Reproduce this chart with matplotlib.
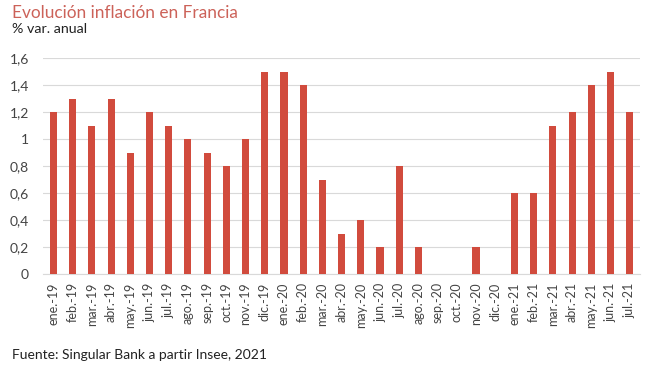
import matplotlib
matplotlib.use("Agg")
import matplotlib.pyplot as plt
import numpy as np

months = ["ene.-19","feb.-19","mar.-19","abr.-19","may.-19","jun.-19","jul.-19","ago.-19","sep.-19","oct.-19","nov.-19","dic.-19",
          "ene.-20","feb.-20","mar.-20","abr.-20","may.-20","jun.-20","jul.-20","ago.-20","sep.-20","oct.-20","nov.-20","dic.-20",
          "ene.-21","feb.-21","mar.-21","abr.-21","may.-21","jun.-21","jul.-21"]
values = [1.2,1.3,1.1,1.3,0.9,1.2,1.1,1.0,0.9,0.8,1.0,1.5,
          1.5,1.4,0.7,0.3,0.4,0.2,0.8,0.2,0.0,0.0,0.2,0.0,
          0.6,0.6,1.1,1.2,1.4,1.5,1.2]
yticks = [0,0.2,0.4,0.6,0.8,1.0,1.2,1.4,1.6]
ytick_labels = ["0","0,2","0,4","0,6","0,8","1","1,2","1,4","1,6"]

plt.rcParams['font.family'] = ['Lato', 'DejaVu Sans']

fig = plt.figure(figsize=(6.5, 3.68), dpi=100)
ax = fig.add_axes([0.066, 0.2554, 0.919, 0.5866])
x = np.arange(len(months))
ax.bar(x, values, width=0.37, color='#d14b3d', zorder=3)
ax.set_xlim(-0.55, len(months) - 0.45)
ax.set_ylim(0, 1.6)
ax.set_yticks(yticks)
ax.set_yticklabels(ytick_labels, fontsize=10, color='#444444')
ax.set_xticks(x)
ax.set_xticklabels(months, rotation=90, fontsize=9, color='#444444')
ax.grid(axis='y', color='#d9d9d9', linewidth=0.8, zorder=0)
for s in ['top', 'right', 'left']:
    ax.spines[s].set_visible(False)
ax.spines['bottom'].set_color('#d9d9d9')
ax.spines['bottom'].set_linewidth(0.8)
ax.tick_params(axis='both', length=0, pad=6)
ax.tick_params(axis='y', pad=10)

fig.text(0.018, 0.965, "Evolución inflación en Francia", fontsize=12.4, color='#cc6259', va='center', ha='left')
fig.text(0.018, 0.922, "% var. anual", fontsize=10.3, color='#222222', va='center', ha='left')
fig.text(0.018, 0.035, "Fuente: Singular Bank a partir Insee, 2021", fontsize=10, color='#222222', va='center', ha='left')

fig.savefig("out.png", dpi=100)
